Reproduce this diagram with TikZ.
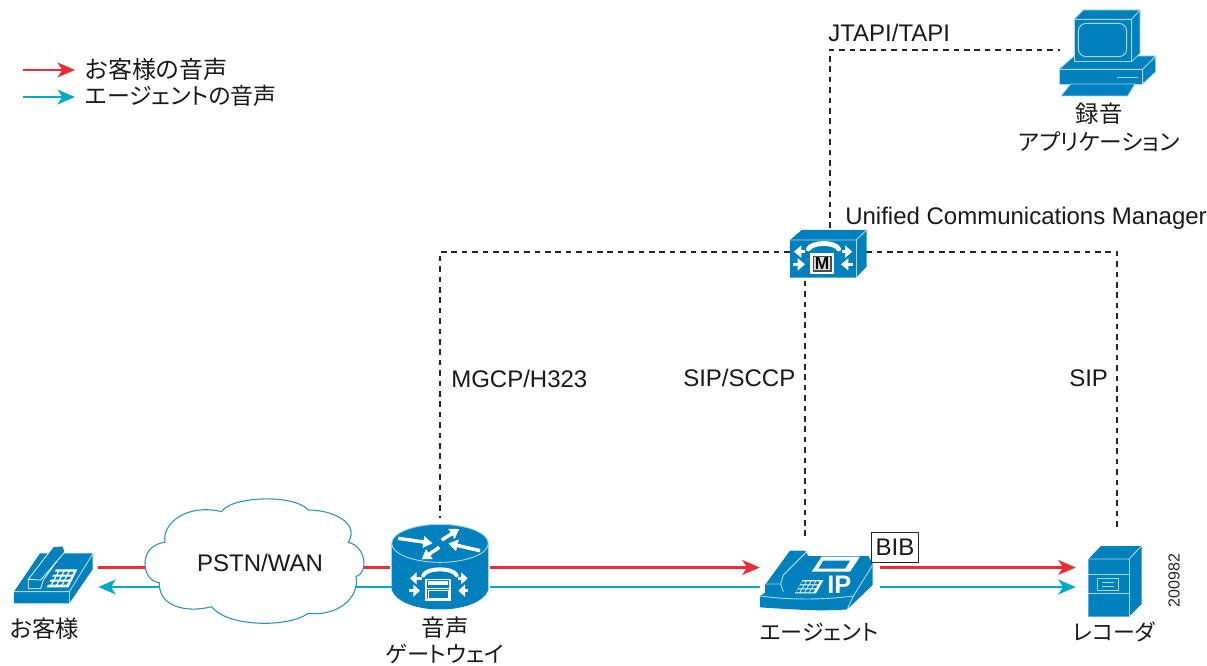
\documentclass[tikz,border=0pt]{standalone}
\usepackage{fontspec}
\setmainfont{Liberation Sans}
\newfontfamily\cjk[RawFeature=+palt]{Noto Sans CJK JP}
\usetikzlibrary{arrows.meta}
\definecolor{ciscoblue}{HTML}{0080BD}
\definecolor{iconline}{HTML}{A8D8EC}
\definecolor{voicered}{HTML}{EE2A35}
\definecolor{voiceblue}{HTML}{00AACC}
\definecolor{cloudline}{HTML}{2A8FC8}
\tikzset{
  lat/.style={font=\fontsize{18}{20}\selectfont,inner sep=0pt,text=black!90},
  jp/.style={font=\fontsize{#1}{20}\selectfont\cjk,inner sep=0pt,text=black!90},
  jp/.default=16.5,
  redv/.style={voicered,line width=2.2pt},
  bluev/.style={voiceblue,line width=2.2pt},
  tip/.style={-{Stealth[length=13pt,width=11pt,inset=3.5pt]}},
  ctl/.style={black!85,line width=.8pt,dash pattern=on 4.2pt off 3.6pt},
  zoomed/.style={x=.25pt,y=-.25pt},
  face/.style={fill=ciscoblue,draw=iconline,line width=.55pt,line join=round},
  detail/.style={iconline,line width=.7pt},
  wa/.style={white,line width=2.6pt,-{Triangle[width=8.5pt,length=7pt]}},
  wb/.style={white,line width=2.4pt,-{Triangle[width=9pt,length=5.5pt]}},
  wc/.style={white,line width=2pt,-{Triangle[width=9pt,length=5pt]}},
}
\begin{document}
\begin{tikzpicture}[x=.75pt,y=-.75pt]
\useasboundingbox (0,0) rectangle (1207,666);
% invisible anchor nodes
\node[inner sep=0,minimum width=66pt,minimum height=60pt] (cust) at (54,567) {};
\node[inner sep=0,minimum width=75pt,minimum height=70pt] (gw) at (440,565) {};
\node[inner sep=0,minimum width=90pt,minimum height=60pt] (agent) at (820,580) {};
\node[inner sep=0,minimum width=61.5pt,minimum height=66pt] (rec) at (1117,574) {};
\node[inner sep=0,minimum width=57pt,minimum height=37.5pt] (mgr) at (828,252) {};
\node[inner sep=0,minimum width=73pt,minimum height=69pt] (pc) at (1108.5,50) {};
\node[inner sep=0,minimum width=165pt,minimum height=90pt] (cloud) at (255,565) {};
\coordinate (redy) at (0,567.5);
\coordinate (bluey) at (0,587);
\coordinate (agtop) at (805,536);
\coordinate (mgrtop) at (830,228);
\coordinate (legA) at (23,70);
\coordinate (legB) at (75,70);
\coordinate (legC) at (23,97);
\coordinate (legD) at (75,97);
% voice paths
\draw[redv] (cust.east |- redy) -- (gw.west |- redy);
\draw[bluev,tip] (cloud.center |- bluey) -- (cust.east |- bluey);
\draw[bluev] (cloud.center |- bluey) -- (gw.center |- bluey);
\draw[redv,tip] (gw.east |- redy) -- (agent.west |- redy);
\draw[bluev] (gw.east |- bluey) -- (agent.west |- bluey);
\draw[redv,tip] (agent.east |- redy) -- (rec.west |- redy);
\draw[bluev,tip] (agent.east |- bluey) -- (rec.west |- bluey);
\draw[redv,tip] (legA) -- (legB);
\draw[bluev,tip] (legC) -- (legD);
% signalling
\draw[ctl] (mgr.west) -| (gw.north);
\draw[ctl] (agtop) -- (agtop |- mgr.south);
\draw[ctl] (mgr.east) -| (rec.north);
\draw[ctl] (mgrtop) |- (pc.west);
% cloud
\begin{scope}[shift={(130,495)},zoomed]
\draw[fill=white,draw=cloudline,line width=.8pt]
 (45,205) .. controls (45,165) and (75,145) .. (105,142)
 .. controls (95,85) and (170,25) .. (275,50)
 .. controls (300,5) and (490,-5) .. (535,45)
 .. controls (610,45) and (690,85) .. (655,142)
 .. controls (710,155) and (715,235) .. (678,245)
 .. controls (690,310) and (620,365) .. (535,355)
 .. controls (470,400) and (290,395) .. (245,335)
 .. controls (170,355) and (85,335) .. (88,263)
 .. controls (60,260) and (45,235) .. (45,205) -- cycle;
\end{scope}
% customer phone
\begin{scope}[shift={(0,530)},zoomed]
\fill[ciscoblue] (42,185) -- (120,70) -- (278,70) -- (278,118) -- (208,220) -- (42,220) -- cycle;
\draw[detail] (42,185) -- (208,185) -- (278,72);
\draw[detail] (208,185) -- (208,220);
\draw[face,draw=white] (85,148) -- (160,50) -- (188,48) -- (195,65) -- (172,92) -- (130,150) -- (122,176) -- (85,176) -- cycle;
\draw[white,line width=.55pt] (85,148) -- (122,150) -- (172,92);
\fill[white] (140,172) -- (168,118) -- (232,118) -- (205,172) -- cycle;
\foreach \a in {0,1,2,3}{\foreach \b in {0,1,2}{
 \fill[ciscoblue] ({146+\a*16+(3-\b)*8-8},{125+\b*15}) -- ++(11,0) -- ++(-5,9) -- ++(-11,0) -- cycle;}}
\end{scope}
% gateway
\begin{scope}[shift={(370,510)},zoomed]
\fill[ciscoblue] (65,100) -- (65,240) .. controls (95,318) and (325,318) .. (355,240) -- (355,100) -- cycle;
\draw[fill=ciscoblue,draw=iconline,line width=.7pt] (210,100) ellipse[x radius=145,y radius=57];
\draw[wa] (85,85) -- (188,100);
\draw[wa] (215,90) -- (268,57);
\draw[wa] (330,122) -- (235,100);
\draw[wa] (208,112) -- (155,148);
\draw[white,line width=3pt,line cap=round] (160,196) .. controls (170,172) and (250,172) .. (260,196);
\draw[white,line width=.9pt,fill=ciscoblue] (168,208) rectangle (240,270);
\fill[white] (175,213) rectangle (234,226);
\draw[white,line width=.7pt] (168,235) -- (240,235);
\draw[white,line width=.7pt] (175,240) rectangle (234,264);
\draw[wc] (155,205) -- (120,205);
\draw[wc] (265,205) -- (293,205);
\draw[wc] (118,242) -- (150,242);
\draw[wc] (295,242) -- (265,242);
\end{scope}
% manager
\begin{scope}[shift={(770,215)},zoomed]
\fill[ciscoblue] (60,75) -- (95,45) -- (290,45) -- (290,155) -- (258,188) -- (60,188) -- cycle;
\draw[detail] (60,75) -- (258,75) -- (290,45);
\draw[detail] (258,75) -- (258,188);
\draw[wb] (105,110) -- (72,110);
\draw[wb] (215,110) -- (247,110);
\draw[wb] (70,148) -- (105,148);
\draw[wb] (248,148) -- (213,148);
\draw[white,line width=3.6pt,line cap=round] (115,102) .. controls (128,80) and (195,80) .. (206,102);
\fill[white] (120,115) rectangle (192,178);
\fill[black!70] (128,122) rectangle (185,170);
\fill[white!88!black] (132,126) rectangle (181,166);
\node[inner sep=0,font=\fontsize{13}{14}\selectfont\bfseries,text=black] (mlabel) at (156,146) {M};
\end{scope}
% agent phone
\begin{scope}[shift={(740,520)},zoomed]
\fill[ciscoblue] (60,228) -- (75,218) -- (75,195) -- (150,92) -- (195,92) -- (205,108) -- (385,108) -- (398,130) -- (398,195) -- (322,268) .. controls (250,275) and (150,268) .. (60,262) -- cycle;
\draw[detail] (60,228) .. controls (150,240) and (250,240) .. (340,228) -- (398,135);
\draw[detail] (340,228) -- (322,268);
\draw[detail] (75,192) -- (122,192) -- (130,215);
\draw[detail] (122,192) -- (130,165) -- (200,95);
\fill[white] (215,155) -- (245,110) -- (360,110) -- (330,155) -- cycle;
\fill[ciscoblue] (235,146) -- (250,122) -- (330,122) -- (315,146) -- cycle;
\fill[white] (165,220) -- (188,180) -- (250,180) -- (228,220) -- cycle;
\foreach \a in {0,1,2,3}{\foreach \b in {0,1,2}{
 \fill[ciscoblue] ({172+\a*14+(2-\b)*7},{184+\b*12}) -- ++(11,0) -- ++(-4,9) -- ++(-11,0) -- cycle;}}
\node[inner sep=0,font=\fontsize{19}{20}\selectfont\bfseries,text=white] (iplabel) at (298,193) {IP};
\end{scope}
% BIB
\node[draw=black!85,fill=white,line width=.6pt,inner sep=0pt,minimum width=35pt,minimum height=22.5pt,font=\fontsize{18}{20}\selectfont,text=black!90] (bib) at (895,547) {BIB};
% recorder
\begin{scope}[shift={(1060,530)},zoomed]
\fill[ciscoblue] (85,87) -- (123,48) -- (245,48) -- (245,222) -- (207,260) -- (85,260) -- cycle;
\draw[detail] (85,87) -- (207,87) -- (245,48);
\draw[detail] (207,87) -- (207,260);
\draw[detail] (85,133) -- (207,133);
\draw[detail] (85,190) -- (207,190);
\draw[detail] (112,146) rectangle (176,181);
\draw[detail] (127,158) -- (162,158);
\draw[detail] (127,168) -- (162,168);
\end{scope}
% computer
\begin{scope}[shift={(1030,0)},zoomed]
\draw[face] (87,208) -- (130,170) -- (335,168) -- (377,168) -- (338,208) -- cycle;
\draw[face] (338,208) -- (377,170) -- (377,215) -- (338,252) -- cycle;
\draw[face] (87,208) rectangle (338,252);
\draw[detail,line width=1pt] (260,232) -- (325,232);
\draw[face] (93,288) -- (122,252) -- (315,252) -- (293,288) -- cycle;
\draw[face] (132,58) -- (160,30) -- (330,30) -- (305,58) -- cycle;
\draw[face] (305,58) -- (330,30) -- (330,160) -- (305,185) -- cycle;
\draw[face] (132,58) rectangle (305,185);
\draw[detail,rounded corners=6pt] (145,70) rectangle (290,170);
\end{scope}
% labels
\node[jp=18,anchor=west] (l1) at (85,69) {お客様の音声};
\node[jp=17.2,anchor=west] (l2) at (85,96) {エージェントの音声};
\node[lat,anchor=west] (t1) at (828,33) {JTAPI/TAPI};
\node[jp=17.5] (t2) at (1099,114) {録音};
\node[jp=17] (t3) at (1099,142) {アプリケーション};
\node[lat,anchor=west] (t4) at (845,218) {Unified Communications Manager};
\node[lat,anchor=west] (t5) at (451,379) {MGCP/H323};
\node[lat,anchor=west] (t6) at (683,378) {SIP/SCCP};
\node[lat,anchor=west] (t7) at (1069,378) {SIP};
\node[lat] (t8) at (260,563) {PSTN/WAN};
\node[jp=17.5,anchor=west] (t9) at (10,629) {お客様};
\node[jp=17.5] (t10) at (445,628) {音声};
\node[jp=16.7] (t11) at (445,654) {ゲートウェイ};
\node[jp] (t12) at (819,632) {エージェント};
\node[jp] (t13) at (1114,632) {レコーダ};
\node[inner sep=0,rotate=90,font=\fontsize{12}{13}\selectfont,text=black!85] (t14) at (1174,580.5) {200982};
\end{tikzpicture}
\end{document}
